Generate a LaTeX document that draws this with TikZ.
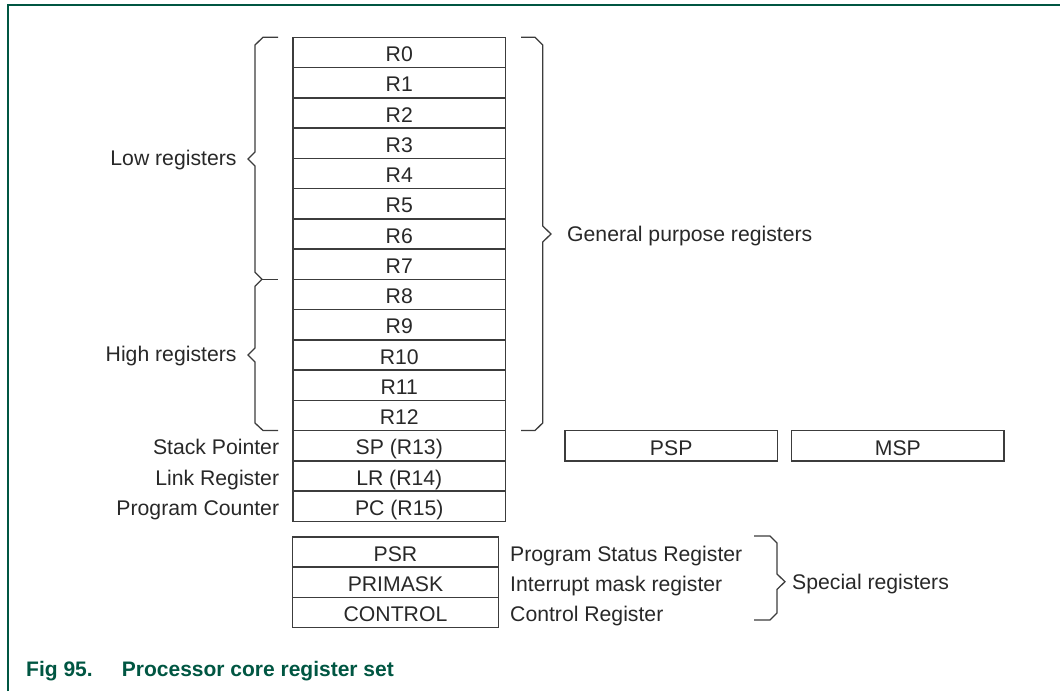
\documentclass[tikz,border=0pt]{standalone}
\usepackage{fontspec}
\setmainfont{Liberation Sans}
\definecolor{nxpgreen}{RGB}{0,86,66}
\definecolor{txt}{RGB}{40,40,40}
\definecolor{ln}{RGB}{60,60,60}
\begin{document}
\begin{tikzpicture}[x=1pt,y=-1pt,
  font=\fontsize{21.2}{25}\selectfont, text=txt,
  reg/.style={draw=ln, line width=1.4pt, minimum width=212.5pt, minimum height=30.25pt, inner sep=0pt, text height=18.6pt, text depth=0pt},
  sreg/.style={reg, minimum width=205.6pt, minimum height=30.1pt},
  lbl/.style={inner sep=0pt, text height=18.6pt, text depth=0pt},
  brace/.style={draw=ln, line width=1.3pt, line join=miter},
  captxt/.style={inner sep=0pt, text=nxpgreen, font=\fontsize{21}{25}\selectfont\bfseries}]
\useasboundingbox (0,0) rectangle (1060,691);
\draw[nxpgreen, line width=2pt] (8,691) -- (8,4.5) -- (1060,4.5);
% general purpose registers
\foreach \i in {0,...,12} {
  \node[reg] (r\i) at (399.25, {37.3+30.25*(\i+0.5)}) {R\i};
}
\node[reg] (sp) at (399.25, {37.3+30.25*13.5}) {SP (R13)};
\node[reg] (lr) at (399.25, {37.3+30.25*14.5}) {LR (R14)};
\node[reg] (pc) at (399.25, {37.3+30.25*15.5}) {PC (R15)};
\node[lbl, anchor=east] (spl) at ([xshift=-13pt]sp.west) {Stack Pointer};
\node[lbl, anchor=east] (lrl) at ([xshift=-13pt]lr.west) {Link Register};
\node[lbl, anchor=east] (pcl) at ([xshift=-13pt]pc.west) {Program Counter};
% PSP / MSP
\node[reg] (psp) at (671.2, 445.9) {PSP};
\node[reg] (msp) at (897.9, 445.9) {MSP};
% braces
\draw[brace] (278,37.3) -- (263,37.3) -- (255,45) -- (255,152) -- (248,159) -- (255,166)
  -- (255,272.3) -- (262,279.3) -- (255,286.3) -- (255,348) -- (248,355) -- (255,362)
  -- (255,423) -- (263,430.5) -- (278,430.5);
\draw[brace] (262,279.3) -- (278,279.3);
\node[lbl, anchor=east] (low) at (236.7,156) {Low registers};
\node[lbl, anchor=east] (high) at (236.7,352) {High registers};
\draw[brace] (521,37.3) -- (535,37.3) -- (542.7,45) -- (542.7,226) -- (551,234) -- (542.7,242)
  -- (542.7,423) -- (535,430.5) -- (521,430.5);
\node[lbl, anchor=west] (gp) at (567,232) {General purpose registers};
% special registers
\node[sreg] (psr) at (395.5, 552.05) {PSR};
\node[sreg] (prim) at (395.5, 582.15) {PRIMASK};
\node[sreg] (ctrl) at (395.5, 612.25) {CONTROL};
\node[lbl, anchor=west] (psrl) at ([xshift=11pt]psr.east) {Program Status Register};
\node[lbl, anchor=west] (priml) at ([xshift=11pt]prim.east) {Interrupt mask register};
\node[lbl, anchor=west] (ctrll) at ([xshift=11pt]ctrl.east) {Control Register};
\draw[brace] (754,536) -- (770,536) -- (777,543) -- (777,574) -- (785,581.7) -- (777,589.4)
  -- (777,613) -- (770,620) -- (754,620);
\node[lbl, anchor=west] (spec) at (792,580) {Special registers};
% caption
\node[captxt, anchor=base west] (fig) at (26,676) {Fig 95.};
\node[captxt, anchor=base west] (title) at (121.7,676) {Processor core register set};
\end{tikzpicture}
\end{document}
